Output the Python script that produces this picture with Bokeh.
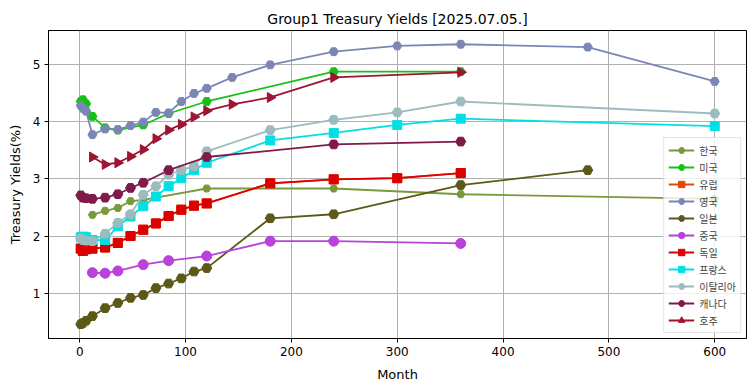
import numpy as np
from bokeh.plotting import figure
from bokeh.models import Range1d, FixedTicker, Legend
from bokeh.embed import file_html
from bokeh.resources import INLINE

# ---- data (months, yields %) ----
kr_m = [12, 24, 36, 48, 60, 120, 240, 360, 600]
kr_y = [2.37, 2.44, 2.49, 2.61, 2.63, 2.83, 2.83, 2.73, 2.65]

us_m = [1, 3, 6, 12, 24, 36, 60, 84, 120, 240, 360]
us_y = [4.35, 4.38, 4.31, 4.09, 3.89, 3.85, 3.94, 4.14, 4.35, 4.87, 4.87]

gb_m = [1, 3, 6, 12, 24, 36, 48, 60, 72, 84, 96, 108, 120, 144, 180, 240, 300, 360, 480, 600]
gb_y = [4.28, 4.23, 4.18, 3.77, 3.87, 3.86, 3.93, 3.99, 4.16, 4.15, 4.35, 4.49, 4.58, 4.77, 4.99, 5.22, 5.32, 5.35, 5.30, 4.70]

jp_m = [1, 3, 6, 12, 24, 36, 48, 60, 72, 84, 96, 108, 120, 180, 240, 360, 480]
jp_y = [0.46, 0.48, 0.52, 0.60, 0.74, 0.83, 0.92, 0.97, 1.09, 1.17, 1.26, 1.38, 1.44, 2.31, 2.38, 2.89, 3.15]

cn_m = [12, 24, 36, 60, 84, 120, 180, 240, 360]
cn_y = [1.36, 1.35, 1.39, 1.50, 1.57, 1.65, 1.91, 1.91, 1.87]

de_m = [1, 3, 6, 12, 24, 36, 48, 60, 72, 84, 96, 108, 120, 180, 240, 300, 360]
de_y = [1.78, 1.74, 1.77, 1.78, 1.80, 1.88, 2.00, 2.11, 2.22, 2.35, 2.46, 2.53, 2.57, 2.92, 2.99, 3.01, 3.10]

eu_m = de_m
eu_y = de_y

fr_m = [1, 3, 6, 12, 24, 36, 48, 60, 72, 84, 96, 108, 120, 180, 240, 300, 360, 600]
fr_y = [1.98, 1.99, 1.98, 1.93, 1.93, 2.17, 2.34, 2.52, 2.69, 2.87, 3.01, 3.15, 3.28, 3.67, 3.80, 3.94, 4.05, 3.92]

it_m = [1, 3, 6, 12, 24, 36, 48, 60, 72, 84, 96, 108, 120, 180, 240, 300, 360, 600]
it_y = [1.96, 1.93, 1.92, 1.91, 2.04, 2.23, 2.38, 2.72, 2.87, 3.07, 3.15, 3.22, 3.48, 3.85, 4.03, 4.16, 4.35, 4.14]

ca_m = [1, 3, 6, 12, 24, 36, 48, 60, 84, 120, 240, 360]
ca_y = [2.71, 2.67, 2.66, 2.65, 2.67, 2.73, 2.84, 2.93, 3.15, 3.38, 3.60, 3.65]

au_m = [12, 24, 36, 48, 60, 72, 84, 96, 108, 120, 144, 180, 240, 360]
au_y = [3.38, 3.25, 3.28, 3.39, 3.51, 3.70, 3.85, 3.95, 4.08, 4.19, 4.30, 4.42, 4.77, 4.86]

series = [
    ("한국", kr_m, kr_y, "#789a3a", "hex", 8, 0),
    ("미국", us_m, us_y, "#16c016", "hex", 9, 0),
    ("유럽", eu_m, eu_y, "#e24a00", "square", 9, 0),
    ("영국", gb_m, gb_y, "#7b86b6", "hex", 9, 0),
    ("일본", jp_m, jp_y, "#5c5918", "hex", 10, 0),
    ("중국", cn_m, cn_y, "#b842da", "circle", 10, 0),
    ("독일", de_m, de_y, "#dc0000", "square", 9, 0),
    ("프랑스", fr_m, fr_y, "#00e0e4", "square", 9, 0),
    ("이탈리아", it_m, it_y, "#9bbcbf", "hex", 10, 0),
    ("캐나다", ca_m, ca_y, "#7f1a4a", "hex", 10, 0),
    ("호주", au_m, au_y, "#9c1532", "triangle", 10, -np.pi / 2),
]

x_ticks = [0, 100, 200, 300, 400, 500, 600]
y_ticks = [1, 2, 3, 4, 5]

p = figure(frame_width=698, frame_height=308, output_backend="svg", toolbar_location=None,
           x_range=Range1d(-29.5, 630), y_range=Range1d(0.21, 5.59),
           min_border_left=48, min_border_right=8, min_border_top=30, min_border_bottom=52)

p.title.text = "Group1 Treasury Yields [2025.07.05.]"
p.title.align = "center"
p.title.text_font = "DejaVu Sans"
p.title.text_font_size = "14px"
p.title.text_font_style = "normal"
p.title.text_color = "#000000"
p.title.standoff = 8
p.title.offset = 0

p.outline_line_color = "black"
p.outline_line_width = 1
for ax in (p.xaxis, p.yaxis):
    ax.axis_line_color = "black"
    ax.major_tick_line_color = "black"
    ax.major_tick_out = 4
    ax.major_tick_in = 0
    ax.minor_tick_line_color = None
    ax.major_label_text_font = "DejaVu Sans"
    ax.major_label_text_font_size = "12px"
    ax.major_label_text_color = "black"
    ax.major_label_standoff = 4
    ax.axis_label_text_font = "DejaVu Sans"
    ax.axis_label_text_font_size = "13px"
    ax.axis_label_text_font_style = "normal"
    ax.axis_label_text_color = "black"
p.xaxis.axis_label_standoff = 8
p.yaxis.axis_label_standoff = 7
p.xaxis.ticker = FixedTicker(ticks=x_ticks)
p.yaxis.ticker = FixedTicker(ticks=y_ticks)
p.xaxis.axis_label = "Month"
p.yaxis.axis_label = "Treasury Yields(%)"

p.xgrid.grid_line_color = "#b0b0b0"
p.ygrid.grid_line_color = "#b0b0b0"
p.xgrid.ticker = FixedTicker(ticks=x_ticks)
p.ygrid.ticker = FixedTicker(ticks=y_ticks)

items = []
for name, mx, my, color, marker, size, ang in series:
    r1 = p.line(mx, my, line_color=color, line_width=1.8)
    r2 = p.scatter(mx, my, marker=marker, size=size, angle=[ang] * len(mx),
                   fill_color=color, line_color=color)
    items.append((name, [r1, r2]))

legend = Legend(items=items, location="bottom_right")
legend.label_text_font = "Noto Sans CJK KR"
legend.label_text_font_size = "10px"
legend.glyph_width = 26
legend.glyph_height = 16
legend.label_height = 16
legend.spacing = 1
legend.padding = 4
legend.margin = 5
legend.label_standoff = 5
legend.border_line_color = "#cccccc"
legend.background_fill_alpha = 0.8
p.add_layout(legend)

open("out.html", "w").write(file_html(p, INLINE))
